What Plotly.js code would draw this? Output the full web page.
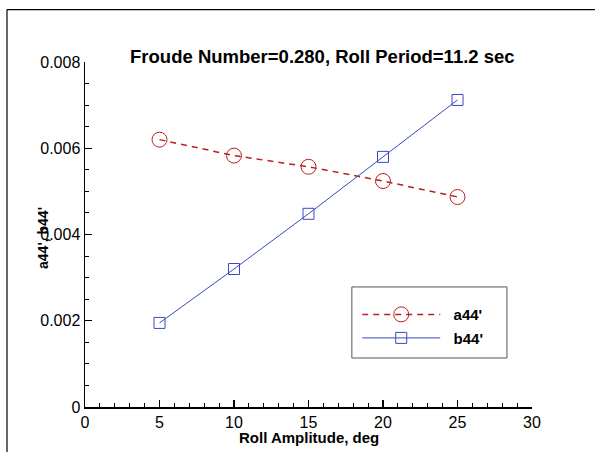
<!DOCTYPE html>
<html>
<head>
<meta charset="utf-8">
<script src="https://cdn.plot.ly/plotly-3.0.1.min.js"></script>
<style>html,body{margin:0;padding:0;background:#fff;}#chart{width:595px;height:452px;}</style>
</head>
<body>
<div id="chart"></div>
<script>
const rollAmplitude = [5, 10, 15, 20, 25];
const a44 = [0.00620, 0.00583, 0.00557, 0.00524, 0.00487];
const b44 = [0.00195, 0.00320, 0.00448, 0.00580, 0.00712];
const xTickVals = [0, 5, 10, 15, 20, 25, 30];
const yTickVals = [0, 0.002, 0.004, 0.006, 0.008];
const yTickText = ['0', '0.002', '0.004', '0.006', '0.008'];

const traces = [
  {
    x: rollAmplitude, y: a44, name: "&nbsp;&nbsp;a44'", type: 'scatter', mode: 'lines+markers', legendgroup: 'a',
    line: {color: '#b82020', width: 1.5, dash: '6px,5px'},
    marker: {symbol: 'circle-open', size: 15, color: '#b82020', line: {width: 1, color: '#b82020'}}
  },
  {
    x: rollAmplitude, y: b44, name: "&nbsp;&nbsp;b44'", type: 'scatter', mode: 'lines+markers', legendgroup: 'b',
    line: {color: '#3a48c0', width: 1},
    marker: {symbol: 'square-open', size: 11, color: '#3a48c0', line: {width: 1, color: '#3a48c0'}}
  }
];

const layout = {
  width: 595, height: 452,
  margin: {l: 85, r: 63, t: 62, b: 45},
  paper_bgcolor: '#fff', plot_bgcolor: '#fff',
  font: {family: 'Liberation Sans, Arial, sans-serif', color: '#000', size: 16},
  showlegend: true,
  title: {
    text: '<b>Froude Number=0.280, Roll Period=11.2 sec</b>',
    font: {size: 18.5, color: '#000'},
    x: 0.531, xref: 'paper', xanchor: 'center', y: 0.874, yref: 'container', yanchor: 'middle'
  },
  legend: {
    x: 0.609, y: 0.3155, xanchor: 'left', yanchor: 'top',
    bgcolor: 'rgba(0,0,0,0)', borderwidth: 0,
    font: {size: 15, color: '#000', weight: 'bold'},
    tracegroupgap: 1, itemwidth: 78
  },
  xaxis: {
    range: [0, 30], tickvals: xTickVals, ticks: 'inside', ticklen: 7, tickwidth: 1.2, tickcolor: '#000',
    minor: {dtick: 1, ticks: 'inside', ticklen: 4, tickwidth: 1, tickcolor: '#000', showgrid: false},
    showline: true, linecolor: '#000', linewidth: 1.5, showgrid: false, zeroline: false,
    tickfont: {size: 16}, mirror: false
  },
  yaxis: {
    range: [0, 0.008], tickvals: yTickVals, ticktext: yTickText, ticks: 'inside', ticklen: 7, tickwidth: 1.2, tickcolor: '#000',
    minor: {dtick: 0.0005, ticks: 'inside', ticklen: 4, tickwidth: 1, tickcolor: '#000', showgrid: false},
    showline: true, linecolor: '#000', linewidth: 1.5, showgrid: false, zeroline: false,
    tickfont: {size: 16}
  },
  annotations: [
    {text: "<b>a44', b44'</b>", xref: 'paper', yref: 'paper', x: (43 - 85) / 447, y: 0.49,
     xanchor: 'center', yanchor: 'middle', textangle: -90, showarrow: false, font: {size: 14, color: '#000'}},
    {text: '<b>Roll Amplitude, deg</b>', xref: 'paper', yref: 'paper', x: 0.5, y: (407 - 437) / 345,
     xanchor: 'center', yanchor: 'middle', showarrow: false, font: {size: 15, color: '#000'}}
  ],
  shapes: [
    {type: 'line', xref: 'paper', yref: 'paper', x0: -0.1745, x1: -0.1745, y0: 1.152, y1: -0.15, line: {color: '#000', width: 1.2}},
    {type: 'line', xref: 'paper', yref: 'paper', x0: -0.1745, x1: 1.15, y0: 1.152, y1: 1.152, line: {color: '#000', width: 1.2}},
    {type: 'rect', xref: 'paper', yref: 'paper', x0: 0.597, x1: 0.944, y0: 0.142, y1: 0.348, line: {color: '#555', width: 1}, fillcolor: 'rgba(0,0,0,0)'}
  ]
};

Plotly.newPlot('chart', traces, layout, {displayModeBar: false, staticPlot: true});
</script>
</body>
</html>
